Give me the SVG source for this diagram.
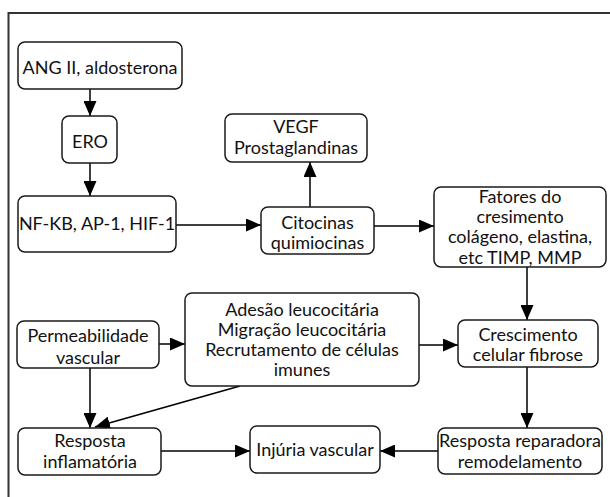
<svg xmlns="http://www.w3.org/2000/svg" width="610" height="497" viewBox="0 0 610 497">
<defs>
<marker id="ah" markerUnits="userSpaceOnUse" markerWidth="15" markerHeight="13" refX="15" refY="6.5" orient="auto">
<path d="M0,0 L15,6.5 L0,13 z" fill="#000"/>
</marker>
<style>
.box{fill:#fff;stroke:#1a1a1a;stroke-width:1.5}
.t{font-family:"Lato","Liberation Sans",sans-serif;font-size:18px;fill:#111;text-anchor:middle}
.c{stroke:#000;stroke-width:1.5;fill:none;marker-end:url(#ah)}
</style>
</defs>
<rect width="610" height="497" fill="#fff"/>
<path d="M8.5,497 V13 H610" fill="none" stroke="#333" stroke-width="2"/>

<g id="connectors">
<line class="c" x1="90" y1="89" x2="90" y2="116"/>
<line class="c" x1="90" y1="163" x2="90" y2="196"/>
<line class="c" x1="176" y1="225" x2="261" y2="225"/>
<line class="c" x1="310" y1="207" x2="310" y2="162"/>
<line class="c" x1="374" y1="226" x2="434" y2="226"/>
<line class="c" x1="527" y1="267" x2="527" y2="320"/>
<line class="c" x1="527" y1="367" x2="527" y2="428"/>
<line class="c" x1="438" y1="451" x2="380" y2="451"/>
<line class="c" x1="161" y1="451" x2="250" y2="451"/>
<line class="c" x1="159" y1="344" x2="185" y2="344"/>
<line class="c" x1="419" y1="345" x2="458" y2="345"/>
<line class="c" x1="90" y1="368" x2="90" y2="428"/>
<line class="c" x1="240" y1="386" x2="95" y2="427"/>
</g>

<g id="n-ang">
<rect class="box" x="18" y="42" width="164" height="47" rx="7"/>
<text class="t" x="100" y="74">ANG II, aldosterona</text>
</g>
<g id="n-ero">
<rect class="box" x="62" y="116" width="55" height="47" rx="7"/>
<text class="t" x="90" y="148">ERO</text>
</g>
<g id="n-nfkb">
<rect class="box" x="18" y="196" width="158" height="56" rx="7"/>
<text class="t" x="97" y="230">NF-KB, AP-1, HIF-1</text>
</g>
<g id="n-vegf">
<rect class="box" x="225" y="114" width="142" height="48" rx="7"/>
<text class="t" x="296" y="133">VEGF</text>
<text class="t" x="296" y="154">Prostaglandinas</text>
</g>
<g id="n-citocinas">
<rect class="box" x="261" y="207" width="113" height="47" rx="7"/>
<text class="t" x="317.5" y="229">Citocinas</text>
<text class="t" x="317.5" y="249">quimiocinas</text>
</g>
<g id="n-fatores">
<rect class="box" x="434" y="187" width="172" height="80" rx="7"/>
<text class="t" x="520" y="203">Fatores do</text>
<text class="t" x="520" y="223">cresimento</text>
<text class="t" x="520" y="243">colágeno, elastina,</text>
<text class="t" x="520" y="264">etc TIMP, MMP</text>
</g>
<g id="n-crescimento">
<rect class="box" x="458" y="320" width="140" height="47" rx="7"/>
<text class="t" x="528" y="341">Crescimento</text>
<text class="t" x="528" y="361">celular fibrose</text>
</g>
<g id="n-reparadora">
<rect class="box" x="438" y="428" width="164" height="46" rx="7"/>
<text class="t" x="520" y="447">Resposta reparadora</text>
<text class="t" x="520" y="468">remodelamento</text>
</g>
<g id="n-injuria">
<rect class="box" x="250" y="426" width="130" height="47" rx="7"/>
<text class="t" x="315" y="456">Injúria vascular</text>
</g>
<g id="n-inflamatoria">
<rect class="box" x="18" y="428" width="143" height="47" rx="7"/>
<text class="t" x="90" y="447">Resposta</text>
<text class="t" x="90" y="468">inflamatória</text>
</g>
<g id="n-permeabilidade">
<rect class="box" x="17" y="321" width="142" height="47" rx="7"/>
<text class="t" x="88" y="342">Permeabilidade</text>
<text class="t" x="88" y="364">vascular</text>
</g>
<g id="n-adesao">
<rect class="box" x="185" y="293" width="234" height="93" rx="7"/>
<text class="t" x="302" y="316">Adesão leucocitária</text>
<text class="t" x="302" y="336">Migração leucocitária</text>
<text class="t" x="302" y="356">Recrutamento de células</text>
<text class="t" x="302" y="376">imunes</text>
</g>
</svg>
